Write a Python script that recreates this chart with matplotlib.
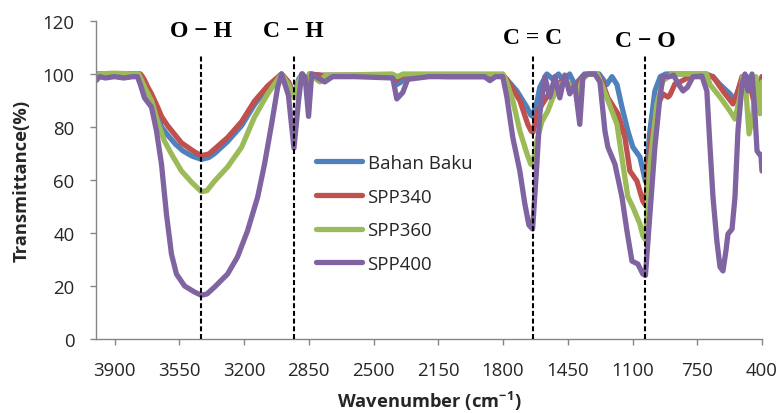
import matplotlib
matplotlib.use("Agg")
import matplotlib.pyplot as plt

plt.rcParams['font.family'] = ['Open Sans', 'DejaVu Sans']
plt.rcParams['mathtext.fontset'] = 'custom'
plt.rcParams['mathtext.rm'] = 'Open Sans'
plt.rcParams['mathtext.bf'] = 'Open Sans:bold'

# ---------------- data ----------------
series_names = ["Bahan Baku", "SPP340", "SPP360", "SPP400"]
series_colors = ["#4F81BD", "#C0504D", "#9BBB59", "#8064A2"]

bahan_w = [4000, 3900, 3800, 3765, 3750, 3730, 3700, 3670, 3646, 3613, 3570, 3530, 3480, 3430,
           3390, 3359, 3289, 3213, 3143, 3072, 2997, 2960, 2928, 2905, 2885, 2860, 2845, 2780,
           2600, 2400, 2375, 2350, 2320, 2100, 1850, 1800, 1780, 1725, 1671, 1650, 1640, 1615,
           1601, 1563, 1530, 1500, 1470, 1440, 1412, 1385, 1360, 1280, 1239, 1211, 1184, 1157,
           1125, 1098, 1060, 1030, 1006, 979, 950, 920, 700, 665, 627, 573, 546, 519, 503, 480,
           465, 438, 411, 400]
bahan_t = [100, 100, 100, 100, 99, 95, 91, 86, 80, 77, 73.5, 71, 69, 67.8,
           68.5, 70, 74.5, 80.5, 88.5, 95, 100, 97, 92, 98, 100, 97, 100, 99.5,
           99.5, 99, 96, 97, 99.5, 99.5, 99.5, 99.5, 98, 93.6, 87.5, 84.5, 84, 90,
           95, 100, 98, 100, 97, 100, 96, 98, 100, 100, 96, 99, 96, 87.5,
           78.5, 72.4, 68.7, 59.5, 78.5, 93.6, 99, 100, 100, 99, 96, 92.5, 90, 96, 99, 99,
           97, 91, 96, 99]

spp340_w = [4000, 3760, 3740, 3720, 3700, 3667, 3646, 3613, 3538, 3467, 3430, 3390, 3359, 3289,
            3213, 3143, 3072, 2997, 2960, 2928, 2900, 2885, 2860, 2845, 2780, 2400, 2370, 2340,
            2100, 1900, 1800, 1780, 1763, 1709, 1666, 1648, 1638, 1612, 1563, 1531, 1477, 1440,
            1401, 1370, 1340, 1290, 1266, 1233, 1179, 1141, 1114, 1076, 1044, 1030, 1006, 968,
            936, 909, 898, 871, 844, 790, 665, 611, 557, 530, 508, 480, 465, 438, 411, 400]
spp340_t = [100, 100, 98, 95, 92.5, 87.5, 84, 80.5, 74, 70.6, 69.2, 69.8, 71.7, 76,
            82, 89.8, 95.5, 100, 97, 91.5, 97, 100, 96, 100, 99.5, 99.5, 98, 99.5,
            99, 99, 99.5, 98, 96, 90, 81, 78.5, 78, 86, 91.3, 95, 97.5, 96,
            95, 99, 100, 100, 97.4, 91, 85, 76, 63.4, 59.6, 52, 50.5, 72.4, 87.5,
            92.5, 91.3, 92, 96.2, 97, 99, 99, 93.6, 88.7, 93.6, 99, 98, 96, 87.5, 93.6, 99]

spp360_w = [4000, 3900, 3800, 3770, 3750, 3730, 3700, 3667, 3630, 3592, 3538, 3484, 3430, 3400,
            3359, 3289, 3213, 3143, 3072, 2997, 2960, 2928, 2905, 2885, 2860, 2845, 2790, 2760,
            2400, 2370, 2340, 1800, 1780, 1747, 1709, 1671, 1650, 1640, 1617, 1590, 1558, 1531,
            1493, 1460, 1430, 1396, 1370, 1340, 1290, 1266, 1233, 1184, 1152, 1125, 1098, 1060,
            1044, 1030, 1006, 968, 936, 887, 700, 681, 627, 573, 546, 519, 503, 487, 470, 449,
            433, 411, 400]
spp360_t = [100, 100.3, 100, 100, 97, 94, 90, 82, 74.7, 69.8, 63.4, 59.2, 55.6, 56,
            59.6, 64.9, 72.4, 83.8, 92.5, 100, 96, 91, 97, 100, 96, 100, 97, 99.5,
            100, 99, 100, 100, 97, 90, 78.5, 70, 66, 65.6, 74.7, 82, 86, 91,
            96, 97.5, 95, 92.5, 98, 100, 100, 96, 90, 81, 66, 53.6, 49.8, 43.4,
            39, 37.5, 66, 88.7, 97.4, 100, 100, 96, 91.3, 86, 83, 91.3, 99, 93.6, 77.4, 85,
            99, 85, 97]

spp400_w = [4000, 3980, 3950, 3900, 3850, 3800, 3776, 3760, 3738, 3700, 3673, 3646, 3619, 3592,
            3565, 3521, 3467, 3430, 3400, 3359, 3289, 3235, 3181, 3126, 3089, 3051, 3018, 2997,
            2960, 2930, 2905, 2888, 2870, 2851, 2834, 2800, 2764, 2721, 2600, 2396, 2374, 2342,
            2315, 2200, 1950, 1900, 1871, 1840, 1801, 1779, 1747, 1709, 1682, 1660, 1640, 1617,
            1601, 1574, 1547, 1520, 1493, 1466, 1439, 1412, 1385, 1368, 1341, 1304, 1276, 1249,
            1233, 1195, 1157, 1130, 1103, 1071, 1044, 1030, 1006, 979, 952, 936, 898, 879,
            850, 827, 803, 773, 725, 698, 681, 665, 644, 627, 611, 595, 584, 562, 546, 530,
            508, 492, 476, 454, 438, 427, 415, 406, 400]
spp400_t = [97.5, 99, 98.5, 99, 98.5, 99, 99, 96, 91, 87.5, 78.5, 66, 47, 32,
            24.5, 20, 17.7, 16.5, 17, 19.6, 24.5, 31, 40.8, 53.6, 66, 81, 95, 100,
            92, 72, 90, 100, 99, 84, 100, 98.5, 97, 99, 99, 98.5, 90.6, 93,
            98, 99, 99, 99, 97.5, 99, 99, 91.3, 76, 63.4, 51, 43, 41.5, 66,
            85, 99, 91.3, 99, 91, 99.6, 92.5, 96, 81, 99, 100, 100, 97, 78.5,
            72.4, 66, 53.6, 40.8, 29.4, 28.3, 24.5, 24, 47, 72.4, 91, 99, 99, 99.6,
            96, 93.6, 95, 99, 99.2, 93.6, 72.4, 53.6, 37, 27.2, 25.7, 33.2, 39.6, 41.5, 53.6, 78.5,
            96, 100, 93.6, 100, 85, 71, 69.8, 69.5, 63.4]

series_w = [bahan_w, spp340_w, spp360_w, spp400_w]
series_t = [bahan_t, spp340_t, spp360_t, spp400_t]

band_labels = ["O \u2212 H", "C \u2212 H", "C = C", "C \u2212 O"]
band_positions = [3430, 2932, 1640, 1030]
band_label_y = [114.3, 114.3, 111.7, 110.5]
band_line_top = 107.5

x_ticks = [3900, 3550, 3200, 2850, 2500, 2150, 1800, 1450, 1100, 750, 400]
y_ticks = [0, 20, 40, 60, 80, 100, 120]

# ---------------- figure ----------------
W, H = 781, 414
fig = plt.figure(figsize=(W / 100, H / 100), dpi=100)
ax = fig.add_axes([96 / W, 1 - 340 / H, (762 - 96) / W, (340 - 22) / H])

for w, t, name, c in zip(series_w, series_t, series_names, series_colors):
    ax.plot(w, t, color=c, lw=3.8, label=name,
            solid_joinstyle='round', solid_capstyle='round')

for pos in band_positions:
    ax.plot([pos, pos], [0, band_line_top], color='black', lw=1.5,
            ls=(0, (2.4, 1.3)), clip_on=False, zorder=5)

for lab, pos, yy in zip(band_labels, band_positions, band_label_y):
    ax.text(pos, yy, lab, ha='center', va='baseline', fontsize=17,
            fontweight='bold', family='Liberation Serif', color='black')

ax.set_xlim(4000, 400)
ax.set_ylim(0, 120)
ax.set_xticks(x_ticks)
ax.set_yticks(y_ticks)
ax.set_xticklabels([str(v) for v in x_ticks])

for s in ['top', 'right']:
    ax.spines[s].set_visible(False)
for s in ['left', 'bottom']:
    ax.spines[s].set_color('#868686')
    ax.spines[s].set_linewidth(1.0)

ax.tick_params(axis='both', direction='out', length=4.5, width=1.0,
               color='#868686', labelsize=13.4, labelcolor='#262626')
ax.tick_params(axis='y', pad=11)
ax.tick_params(axis='x', pad=11)

fig.text(22 / W, 1 - 181 / H, "Transmittance(%)", rotation=90, ha='center',
         va='center', fontsize=13.2, fontweight='bold', color='#262626')
fig.text(429 / W, 1 - 408 / H, r"Wavenumber (cm$^{\mathbf{-1}}$)", ha='center',
         va='baseline', fontsize=13.2, fontweight='bold', color='#262626')

leg = ax.legend(loc='upper left', bbox_to_anchor=(316 / W, 1 - 155 / H),
                bbox_transform=fig.transFigure, frameon=False, fontsize=13.4,
                handlelength=2.47, handletextpad=0.3, labelspacing=0.84,
                borderpad=0, borderaxespad=0)
for txt in leg.get_texts():
    txt.set_color('#262626')

fig.savefig("out.png", dpi=100)
